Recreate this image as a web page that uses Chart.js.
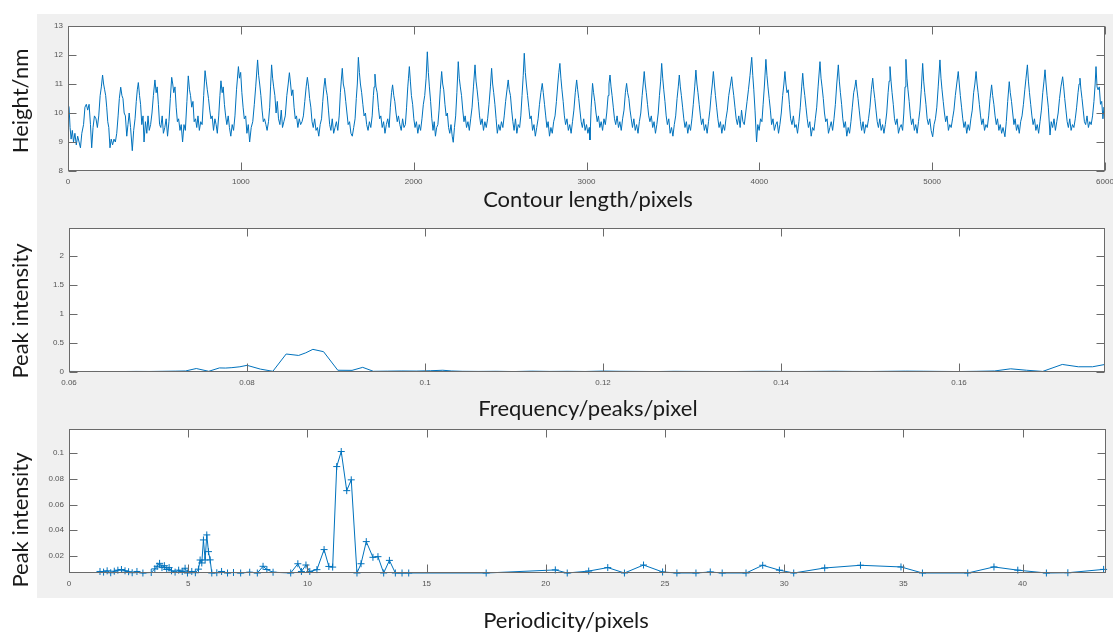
<!DOCTYPE html>
<html>
<head>
<meta charset="utf-8">
<script src="https://cdn.jsdelivr.net/npm/chart.js@4.4.1/dist/chart.umd.min.js"></script>
<style>
  html, body { margin: 0; padding: 0; background: #ffffff; }
  #stage { position: relative; width: 1113px; height: 633px; overflow: hidden; }
  #figure { position: absolute; left: 37px; top: 14px; width: 1076px; height: 584px; background: #f0f0f0; }
  canvas { position: absolute; left: 0; }
</style>
</head>
<body>
<div id="stage">
  <div id="figure"></div>
  <canvas id="profile" width="1113" height="214" style="top:0px"></canvas>
  <canvas id="spectrum" width="1113" height="206" style="top:214px"></canvas>
  <canvas id="period" width="1113" height="213" style="top:420px"></canvas>
</div>
<script>
// ---- Height profile along the contour ----
const contourLength = [
  0,6,12,18,25,32,40,48,56,64,72,80,90,98,106,114,122,130,137,145,153,162,170,178,186,193,
  200,206,212,218,224,230,236,243,250,258,266,274,282,290,297,
  305,312,318,325,332,340,347,354,362,372,380,388,395,401,
  407,414,420,427,434,440,448,456,463,470,478,486,494,
  503,510,516,523,530,537,545,552,560,568,576,584,592,
  600,606,612,619,626,633,640,648,655,663,671,679,688,
  696,703,709,716,723,730,738,745,752,760,768,776,785,
  793,800,806,813,820,827,834,842,850,857,864,872,879,
  885,892,898,905,912,919,927,934,942,950,958,966,975,
  986,992,999,1006,1013,1020,1028,1035,1043,1051,1060,1069,1078,1086,
  1097,1103,1109,1116,1123,1130,1137,1145,1152,1160,1167,1172,
  1178,1184,1190,1197,1204,1211,1218,1226,1234,1241,1249,1257,1266,1274,
  1281,1288,1294,1301,1308,1315,1322,1330,1338,1346,1354,1362,1370,1378,
  1385,1392,1398,1405,1412,1419,1427,1435,1443,1451,1459,1467,1474,1481,
  1487,1494,1500,1507,1514,1521,1529,1537,1545,1553,1561,1569,1576,1581,
  1587,1593,1600,1607,1614,1621,1629,1637,1645,1653,1661,1668,1674,
  1680,1686,1692,1699,1706,1713,1721,1728,1736,1744,1752,1760,1767,1771,
  1776,1782,1789,1796,1803,1810,1818,1826,1834,1842,1850,1858,1865,1872,
  1878,1885,1891,1898,1905,1912,1920,1928,1936,1944,1952,1959,1966,1970,
  1975,1981,1987,1994,2001,2008,2016,2024,2032,2040,2048,2056,2064,2072,
  2079,2085,2091,2098,2105,2112,2119,2126,2133,2140,2147,2154,
  2162,2168,2174,2181,2188,2195,2202,2209,2216,2223,2229,2236,2243,2250,
  2258,2264,2270,2277,2284,2291,2298,2306,2314,2322,2330,2338,2346,
  2355,2361,2367,2374,2381,2388,2396,2404,2412,2420,2428,2436,2444,
  2451,2457,2463,2470,2477,2484,2492,2500,2508,2516,2524,2532,2540,
  2547,2553,2560,2567,2574,2581,2589,2597,2605,2613,2620,2627,2634,
  2640,2646,2652,2659,2666,2673,2680,2688,2696,2704,2712,2720,2728,2736,
  2744,2750,2757,2764,2771,2778,2786,2794,2802,2810,2818,2826,2834,2840,
  2846,2852,2858,2865,2872,2879,2887,2895,2903,2911,2919,2927,2935,
  2943,2949,2955,2962,2969,2976,2984,2992,3000,3008,3016,3020,3027,
  3035,3041,3048,3055,3062,3069,3077,3085,3093,3101,3109,3117,3125,3130,
  3136,3142,3148,3155,3162,3169,3177,3185,3193,3201,3209,3217,3225,
  3232,3238,3245,3252,3259,3266,3274,3282,3290,3298,3306,3314,3322,3328,
  3334,3340,3346,3353,3360,3367,3375,3383,3391,3399,3407,3415,3422,3429,
  3435,3441,3447,3454,3461,3468,3476,3484,3492,3500,3508,3516,3524,3531,
  3537,3543,3549,3556,3563,3570,3578,3586,3594,3602,3610,3618,3626,
  3633,3639,3645,3652,3659,3666,3674,3682,3690,3698,3706,3714,3721,3728,
  3734,3740,3746,3753,3760,3767,3775,3783,3791,3799,3807,3815,3823,3831,
  3840,3846,3852,3859,3866,3873,3881,3889,3897,3905,3913,3921,3929,3937,3946,
  3956,3962,3968,3975,3984,3991,3999,4007,4015,4022,4030,
  4038,4044,4050,4057,4064,4071,4079,4087,4095,4103,4111,4119,4127,4135,4142,
  4148,4154,4160,4167,4174,4181,4189,4197,4205,4213,4221,4229,4237,4245,
  4251,4257,4263,4270,4277,4284,4292,4300,4308,4316,4324,4332,4340,
  4351,4357,4363,4370,4377,4384,4392,4400,4408,4416,4424,4432,4440,4448,
  4457,4463,4469,4476,4483,4490,4498,4506,4514,4522,4530,4538,4546,4553,
  4559,4565,4571,4578,4585,4592,4600,4608,4616,4624,4632,4640,4648,
  4656,4662,4668,4675,4682,4689,4697,4705,4713,4721,4729,4737,4745,4751,
  4756,4762,4768,4775,4782,4789,4797,4805,4813,4821,4829,4836,4843,
  4848,4854,4860,4867,4874,4881,4889,4897,4905,4913,4921,4929,4937,
  4945,4951,4957,4964,4971,4978,4986,4994,5003,5011,5019,5027,5035,
  5045,5051,5057,5064,5071,5078,5086,5094,5102,5110,5118,5126,5134,5142,
  5151,5157,5163,5170,5177,5184,5192,5200,5208,5216,5224,5232,5240,5247,
  5254,5260,5266,5273,5280,5287,5295,5303,5311,5319,5327,5335,
  5344,5350,5357,5364,5371,5378,5386,5394,5402,5410,5421,5429,5437,
  5446,5452,5459,5466,5473,5480,5488,5496,5504,5512,5520,5528,5536,5543,
  5551,5557,5563,5570,5577,5584,5592,5600,5608,5616,5624,5632,5640,5647,
  5653,5659,5665,5672,5682,5689,5697,5705,5713,5721,5729,5737,5745,
  5755,5761,5767,5774,5781,5788,5796,5804,5812,5820,5828,5836,5844,5850,
  5855,5861,5867,5874,5881,5888,5896,5904,5912,5920,5928,5936,5943,
  5948,5954,5960,5967,5974,5981,5988,5994,6000
];
const heightNm = [
  10.3,10.2,9.5,9.1,9.4,9.0,9.3,8.9,9.2,9.0,8.8,9.3,9.6,10.2,10.3,10.1,10.3,9.6,8.8,9.5,9.9,9.8,9.5,9.9,10.6,10.9,
  11.31,11.0,10.8,10.6,10.2,9.7,9.5,8.8,9.1,8.9,9.1,9.0,9.3,9.9,10.5,
  10.89,10.6,10.5,10.0,9.9,9.2,9.6,10.0,9.5,8.7,9.4,9.8,10.4,10.8,
  11.05,10.6,10.3,9.6,9.9,9.0,9.7,9.3,9.9,9.4,9.6,10.0,10.6,
  11.14,10.7,10.9,10.3,9.6,9.5,9.9,9.3,9.5,9.8,9.2,9.7,10.5,
  11.23,11.0,10.7,10.9,10.2,9.7,9.8,9.4,9.6,9.0,9.6,9.4,10.4,
  11.28,10.8,10.6,10.2,10.4,9.7,9.8,9.5,9.9,9.4,9.7,9.6,10.6,
  11.46,11.1,10.8,10.5,10.1,9.8,9.9,9.4,9.8,9.6,9.3,9.9,10.6,
  11.11,10.7,10.9,10.3,9.9,9.6,9.9,9.5,9.2,9.6,9.4,9.9,10.8,
  11.6,11.2,11.4,10.7,10.2,9.8,9.9,9.3,9.6,9.0,9.5,9.7,10.3,10.9,
  11.83,11.3,11.0,10.6,10.1,9.7,9.8,9.6,9.4,9.7,10.2,10.9,
  11.66,11.2,10.9,10.6,10.0,10.4,9.8,9.6,10.1,9.5,9.7,9.9,10.6,11.0,
  11.39,11.0,10.6,10.8,10.2,9.8,9.9,9.5,9.8,9.6,9.7,9.9,10.4,10.9,
  11.23,10.9,10.5,10.2,9.7,9.5,9.8,9.4,9.5,9.2,9.6,9.8,10.4,10.9,
  11.2,10.8,10.6,10.1,9.6,9.4,9.8,9.3,9.5,9.7,9.4,9.9,10.7,11.1,
  11.54,11.0,10.8,10.4,10.0,9.6,9.7,9.3,9.2,9.5,9.8,10.5,11.0,
  11.92,11.4,11.0,10.7,10.3,9.9,10.0,9.6,9.4,9.7,9.5,9.9,10.6,10.9,
  11.34,10.9,10.7,10.2,9.8,9.9,9.5,9.7,9.3,9.6,9.8,9.5,10.2,10.7,
  10.97,10.6,10.4,10.0,9.7,9.9,9.6,9.4,9.8,9.5,9.6,10.2,10.9,11.2,
  11.6,11.1,10.6,10.3,9.8,9.5,9.7,9.3,9.6,9.4,9.8,10.3,10.6,11.2,
  12.11,11.4,10.9,10.4,9.8,9.4,9.7,9.2,9.5,9.6,10.1,10.8,
  11.43,11.0,10.8,10.3,9.9,10.0,9.5,9.3,9.6,9.2,8.99,9.5,9.9,10.7,
  11.77,11.2,10.9,10.6,10.1,9.7,9.9,9.5,9.7,9.4,9.8,10.2,10.9,
  11.66,11.1,10.8,10.4,9.9,9.6,9.8,9.4,9.7,9.5,9.8,10.3,10.9,
  11.54,11.0,10.7,10.3,9.8,9.3,9.6,9.4,9.7,9.5,9.9,10.4,10.8,
  11.14,10.8,10.6,10.1,9.7,9.4,9.8,9.3,9.6,9.5,9.9,10.6,11.3,
  12.06,11.4,11.0,10.6,10.2,9.8,9.9,9.4,9.6,9.2,9.5,9.8,10.3,10.7,
  11.02,10.7,10.3,9.9,9.5,9.7,9.2,9.5,9.3,9.7,9.9,10.4,11.0,11.4,
  11.71,11.2,10.8,10.4,9.9,9.6,9.8,9.4,9.6,9.3,9.7,10.1,10.7,
  11.14,10.8,10.5,10.1,9.7,9.5,9.8,9.4,9.6,9.3,9.5,9.07,10.2,
  11.02,10.7,10.4,10.0,9.7,9.9,9.5,9.7,9.4,9.8,9.6,10.0,10.6,11.0,
  11.31,10.9,10.6,10.2,9.8,9.6,9.9,9.5,9.7,9.4,9.8,10.1,10.7,
  11.02,10.7,10.5,10.1,9.8,9.5,9.8,9.4,9.6,9.3,9.7,10.0,10.6,11.0,
  11.43,11.0,10.7,10.3,9.9,9.7,9.9,9.5,9.7,9.3,9.6,10.0,10.6,11.1,
  11.71,11.2,10.8,10.4,9.9,9.6,9.8,9.3,9.5,9.2,9.6,9.9,10.5,10.9,
  11.31,10.9,10.6,10.2,9.8,9.5,9.7,9.3,9.6,9.4,9.8,10.3,10.9,
  11.48,11.0,10.7,10.3,9.9,9.6,9.8,9.4,9.6,9.3,9.7,10.1,10.6,11.0,
  11.43,11.0,10.6,10.2,9.8,9.5,9.7,9.3,9.6,9.4,9.8,10.1,10.6,10.9,
  11.25,10.9,10.6,10.2,9.8,9.6,9.9,9.5,10.1,9.7,9.6,10.0,10.4,10.8,11.3,
  11.92,11.3,10.8,10.1,9.0,9.6,9.4,9.8,9.7,10.3,11.0,
  11.85,11.3,10.9,10.5,10.1,9.6,9.8,9.4,9.6,9.7,9.3,9.6,10.0,10.6,11.0,
  11.43,11.0,10.7,10.8,10.3,9.8,9.6,9.9,9.5,9.6,9.3,9.7,10.2,10.9,
  11.37,10.9,10.6,10.2,9.8,9.5,9.7,9.2,9.5,9.4,9.8,10.2,10.9,
  11.77,11.2,10.9,10.5,10.0,9.7,9.8,9.3,9.5,9.7,9.4,9.8,10.3,11.0,
  11.66,11.1,10.7,10.3,9.8,9.5,9.7,9.2,9.5,9.3,9.7,10.2,10.7,10.9,
  11.14,10.8,10.5,10.1,9.7,9.4,9.7,9.3,9.6,9.5,9.8,10.2,10.8,
  11.2,10.8,10.5,10.1,9.7,9.5,9.8,9.4,9.6,9.3,9.6,10.0,10.7,11.1,
  11.6,11.1,10.7,10.3,9.8,9.6,9.8,9.3,9.5,9.6,9.4,10.0,10.9,
  11.85,11.2,10.8,10.4,9.9,9.6,9.8,9.4,9.6,9.3,9.7,10.1,10.8,
  11.71,11.1,10.7,10.3,9.8,9.6,9.8,9.4,9.18,9.6,9.8,10.2,10.9,
  11.83,11.2,10.8,10.4,10.0,9.7,9.9,9.4,9.6,9.5,9.8,10.1,10.6,11.0,
  11.43,11.0,10.6,10.2,9.8,9.5,9.7,9.3,9.6,9.4,9.8,10.1,10.7,11.0,
  11.43,11.0,10.7,10.3,9.9,9.6,9.8,9.4,9.6,9.5,9.9,10.5,
  10.97,10.6,10.3,9.9,9.6,9.8,9.4,9.6,9.3,9.5,9.18,9.7,10.4,
  11.08,10.7,10.4,10.0,9.6,9.8,9.4,9.6,9.3,9.7,9.9,10.3,10.8,11.2,
  11.66,11.1,10.7,10.3,9.9,9.6,9.8,9.4,9.6,9.3,9.7,10.1,10.7,11.1,
  11.49,11.0,10.6,10.2,9.24,9.7,9.5,9.8,9.4,9.7,10.0,10.5,10.9,
  11.25,10.9,10.5,10.1,9.7,9.5,9.8,9.4,9.6,9.5,9.8,10.2,10.7,11.0,
  11.2,10.8,10.5,10.1,9.7,9.6,9.9,9.5,9.7,9.6,9.9,10.4,11.0,
  11.6,10.9,10.8,10.9,10.3,10.4,9.8,10.2,10.0
];
const contourTicks = [0, 1000, 2000, 3000, 4000, 5000, 6000];
const heightTicks = [8, 9, 10, 11, 12, 13];

// ---- Frequency spectrum ----
const frequency = [
  0.0600,0.0615,0.0630,0.0645,0.0660,0.0675,0.0690,0.0705,0.0720,
  0.0731,0.0743,0.0757,0.0769,0.0776,0.0783,0.0792,0.0800,0.0815,0.0829,
  0.0844,0.0858,0.0866,0.0874,0.0886,0.0902,0.0918,0.0930,0.0942,
  0.0958,0.0974,0.0990,0.1006,0.1020,0.1030,0.1042,
  0.1060,0.1080,0.1100,0.1120,0.1140,0.1160,0.1180,0.1200,0.1220,0.1240,
  0.1260,0.1280,0.1300,0.1320,0.1340,0.1360,0.1380,0.1400,0.1420,0.1440,
  0.1460,0.1480,0.1500,0.1520,0.1540,0.1560,0.1580,0.1600,0.1620,0.1640,
  0.1658,0.1676,0.1694,0.1716,0.1734,0.1750,0.1764
];
const frequencyIntensity = [
  0.010,0.008,0.009,0.007,0.008,0.010,0.009,0.012,0.015,
  0.018,0.060,0.012,0.070,0.068,0.075,0.090,0.115,0.050,0.012,
  0.310,0.285,0.330,0.390,0.350,0.030,0.028,0.080,0.012,
  0.015,0.018,0.016,0.022,0.030,0.018,0.012,
  0.010,0.012,0.008,0.014,0.010,0.012,0.009,0.016,0.012,0.010,
  0.008,0.012,0.010,0.009,0.007,0.010,0.012,0.010,0.009,0.011,
  0.013,0.010,0.009,0.012,0.015,0.013,0.010,0.008,0.012,0.018,
  0.055,0.030,0.010,0.130,0.090,0.090,0.130
];
const frequencyTicks = [0.06, 0.08, 0.1, 0.12, 0.14, 0.16];
const frequencyIntensityTicks = [0, 0.5, 1, 1.5, 2];

// ---- Periodicity peaks ----
const periodicity = [
  1.30,1.45,1.60,1.75,1.90,2.05,2.20,2.35,2.50,2.65,
  2.85,3.10,3.45,3.60,3.70,3.80,3.90,4.00,4.10,4.20,
  4.30,4.45,4.60,4.75,4.87,4.97,5.15,5.30,5.43,5.50,
  5.57,5.64,5.71,5.78,5.85,5.92,5.99,6.20,6.40,6.65,
  6.90,7.20,7.58,7.90,8.14,8.30,8.56,9.30,9.60,9.75,
  9.94,10.10,10.40,10.70,10.90,11.06,11.23,11.42,11.65,11.84,
  12.08,12.25,12.47,12.75,12.96,13.20,13.44,13.69,13.97,14.25,
  17.50,20.40,20.90,21.80,22.60,23.30,24.10,24.90,25.50,26.30,
  26.90,27.40,28.40,29.10,29.80,30.40,31.70,33.20,34.90,35.80,
  37.70,38.80,39.80,41.00,41.90,43.40
];
const periodIntensity = [
  0.0080,0.0075,0.0085,0.0070,0.0082,0.0090,0.0095,0.0085,0.0078,0.0070,
  0.0080,0.0068,0.0072,0.0100,0.0120,0.0143,0.0110,0.0125,0.0095,0.0110,
  0.0085,0.0075,0.0090,0.0080,0.0105,0.0068,0.0080,0.0070,0.0098,0.0169,
  0.0146,0.0325,0.0169,0.0364,0.0234,0.0170,0.0068,0.0070,0.0080,0.0068,
  0.0072,0.0068,0.0074,0.0068,0.0120,0.0095,0.0074,0.0068,0.0140,0.0080,
  0.0130,0.0080,0.0094,0.0250,0.0119,0.0114,0.0895,0.1012,0.0708,0.0792,
  0.0068,0.0140,0.0312,0.0190,0.0195,0.0068,0.0166,0.0068,0.0068,0.0068,
  0.0068,0.0092,0.0068,0.0083,0.0110,0.0068,0.0130,0.0076,0.0068,0.0068,
  0.0076,0.0068,0.0068,0.0128,0.0090,0.0068,0.0107,0.0128,0.0115,0.0068,
  0.0068,0.0115,0.0090,0.0068,0.0070,0.0096
];
const periodTicks = [0, 5, 10, 15, 20, 25, 30, 35, 40];
const periodIntensityTicks = [0.02, 0.04, 0.06, 0.08, 0.1];

// ---- Styling ----
const LINE_BLUE = '#0072BD';
const AXIS_GREY = '#6a6a6a';
const TICK_TEXT = '#555555';
const TICK_LEN = 8;
const TITLE_FONT = '22px Lato';

function points(xs, ys) {
  const n = Math.min(xs.length, ys.length);
  const out = [];
  for (let i = 0; i < n; i++) out.push({ x: xs[i], y: ys[i] });
  return out;
}

// White plot box, MATLAB-style frame with inward ticks on all four sides
const axesFrame = {
  id: 'axesFrame',
  beforeDraw(chart) {
    const { ctx, chartArea: a } = chart;
    ctx.save();
    ctx.fillStyle = '#ffffff';
    ctx.fillRect(a.left, a.top, a.right - a.left, a.bottom - a.top);
    ctx.restore();
  },
  afterDraw(chart) {
    const { ctx, chartArea: a, scales } = chart;
    const xs = scales.x, ys = scales.y;
    const L = Math.round(a.left) + 0.5, R = Math.round(a.right) - 0.5;
    const T = Math.round(a.top) + 0.5, B = Math.round(a.bottom) - 0.5;
    ctx.save();
    ctx.strokeStyle = AXIS_GREY;
    ctx.lineWidth = 1;
    ctx.beginPath();
    xs.ticks.forEach(t => {
      const px = Math.round(xs.getPixelForValue(t.value)) + 0.5;
      ctx.moveTo(px, B); ctx.lineTo(px, B - TICK_LEN);
      ctx.moveTo(px, T); ctx.lineTo(px, T + TICK_LEN);
    });
    ys.ticks.forEach(t => {
      const py = Math.round(ys.getPixelForValue(t.value)) + 0.5;
      ctx.moveTo(L, py); ctx.lineTo(L + TICK_LEN, py);
      ctx.moveTo(R, py); ctx.lineTo(R - TICK_LEN, py);
    });
    ctx.stroke();
    ctx.strokeRect(L, T, R - L, B - T);
    ctx.restore();
  }
};

// Axis captions (x label below, y label rotated on the left)
function captions(items) {
  return {
    id: 'captions',
    afterDraw(chart) {
      const ctx = chart.ctx;
      ctx.save();
      ctx.fillStyle = '#1a1a1a';
      ctx.font = TITLE_FONT;
      ctx.textAlign = 'center';
      ctx.textBaseline = 'middle';
      items.forEach(c => {
        ctx.save();
        ctx.translate(c.x, c.y);
        if (c.vertical) ctx.rotate(-Math.PI / 2);
        ctx.fillText(c.text, 0, 0);
        ctx.restore();
      });
      ctx.restore();
    }
  };
}

function axis(horizontal, min, max, tickValues, size, pad) {
  return {
    type: 'linear',
    min: min,
    max: max,
    bounds: 'data',
    grid: { display: false, drawTicks: false },
    border: { display: false },
    ticks: {
      autoSkip: false,
      maxRotation: 0,
      minRotation: 0,
      padding: pad,
      color: TICK_TEXT,
      font: { family: 'Liberation Sans', size: 8 },
      callback: v => String(v)
    },
    afterBuildTicks: s => { s.ticks = tickValues.map(v => ({ value: v })); },
    afterFit: s => {
      if (horizontal) s.height = size; else s.width = size;
      s.paddingLeft = 0; s.paddingRight = 0; s.paddingTop = 0; s.paddingBottom = 0;
    }
  };
}

function baseOptions(padding, xAxis, yAxis) {
  return {
    responsive: false,
    animation: false,
    events: [],
    layout: { padding: padding },
    plugins: { legend: { display: false }, tooltip: { enabled: false } },
    scales: { x: xAxis, y: yAxis }
  };
}

// Panel 1: height profile
new Chart(document.getElementById('profile'), {
  type: 'line',
  data: {
    datasets: [{
      data: points(contourLength, heightNm),
      borderColor: LINE_BLUE,
      borderWidth: 1,
      pointRadius: 0,
      tension: 0
    }]
  },
  options: baseOptions(
    { left: 0, top: 26, right: 8, bottom: 0 },
    axis(true, 0, 6000, contourTicks, 43, 6),
    axis(false, 8, 13, heightTicks, 68, 5)
  ),
  plugins: [axesFrame, captions([
    { text: 'Height/nm', x: 21, y: 101, vertical: true },
    { text: 'Contour length/pixels', x: 588, y: 200 }
  ])]
});

// Panel 2: frequency spectrum
new Chart(document.getElementById('spectrum'), {
  type: 'line',
  data: {
    datasets: [{
      data: points(frequency, frequencyIntensity),
      borderColor: LINE_BLUE,
      borderWidth: 1,
      pointRadius: 0,
      tension: 0
    }]
  },
  options: baseOptions(
    { left: 0, top: 14, right: 8, bottom: 0 },
    axis(true, 0.06, 0.1764, frequencyTicks, 48, 6),
    axis(false, 0, 2.48, frequencyIntensityTicks, 69, 5)
  ),
  plugins: [axesFrame, captions([
    { text: 'Peak intensity', x: 21, y: 97, vertical: true },
    { text: 'Frequency/peaks/pixel', x: 588, y: 195 }
  ])]
});

// Panel 3: periodicity peaks with '+' markers
new Chart(document.getElementById('period'), {
  type: 'line',
  data: {
    datasets: [{
      data: points(periodicity, periodIntensity),
      borderColor: LINE_BLUE,
      borderWidth: 1,
      pointStyle: 'cross',
      pointRadius: 3.5,
      pointBorderWidth: 1,
      pointBorderColor: LINE_BLUE,
      pointBackgroundColor: 'rgba(0,0,0,0)',
      tension: 0,
      clip: 4
    }]
  },
  options: baseOptions(
    { left: 0, top: 9, right: 7, bottom: 0 },
    axis(true, 0, 43.5, periodTicks, 60, 6),
    axis(false, 0.0068, 0.1187, periodIntensityTicks, 69, 5)
  ),
  plugins: [axesFrame, captions([
    { text: 'Peak intensity', x: 21, y: 100, vertical: true },
    { text: 'Periodicity/pixels', x: 566, y: 201 }
  ])]
});
</script>
</body>
</html>
